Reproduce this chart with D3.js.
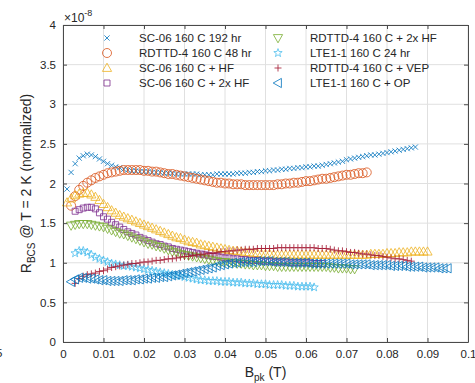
<!DOCTYPE html>
<html>
<head>
<meta charset="utf-8">
<script src="https://cdn.jsdelivr.net/npm/d3@7"></script>
<style>
body { margin: 0; background: #fff; }
text { font-family: "Liberation Sans", Arial, sans-serif; fill: #262626; }
</style>
</head>
<body>
<div id="chart"></div>
<script>
var w = 475;
var h = 383;
var margin = {top: 25, right: 7, bottom: 41, left: 63};

// B_pk values (T) shared by all series
var bPk = [0.001, 0.002, 0.003, 0.004, 0.005, 0.006, 0.007, 0.008, 0.009, 0.010,
    0.011, 0.012, 0.013, 0.014, 0.015, 0.016, 0.017, 0.018, 0.019, 0.020,
    0.021, 0.022, 0.023, 0.024, 0.025, 0.026, 0.027, 0.028, 0.029, 0.030,
    0.031, 0.032, 0.033, 0.034, 0.035, 0.036, 0.037, 0.038, 0.039, 0.040,
    0.041, 0.042, 0.043, 0.044, 0.045, 0.046, 0.047, 0.048, 0.049, 0.050,
    0.051, 0.052, 0.053, 0.054, 0.055, 0.056, 0.057, 0.058, 0.059, 0.060,
    0.061, 0.062, 0.063, 0.064, 0.065, 0.066, 0.067, 0.068, 0.069, 0.070,
    0.071, 0.072, 0.073, 0.074, 0.075, 0.076, 0.077, 0.078, 0.079, 0.080,
    0.081, 0.082, 0.083, 0.084, 0.085, 0.086, 0.087, 0.088, 0.089, 0.090,
    0.091, 0.092, 0.093, 0.094, 0.095];

var names = ["SC-06 160 C 192 hr", "RDTTD-4 160 C 48 hr", "SC-06 160 C + HF", "SC-06 160 C + 2x HF",
    "RDTTD-4 160 C + 2x HF", "LTE1-1 160 C 24 hr", "RDTTD-4 160 C + VEP", "LTE1-1 160 C + OP"];
var colors = ["#0072BD", "#D95319", "#EDB120", "#7E2F8E", "#77AC30", "#4DBEEE", "#A2142F", "#0072BD"];
var markers = ["x", "o", "^", "s", "v", "p", "+", "<"];

// first B_pk of each series
var startB = [0.001, 0.002, 0.001, 0.003, 0.002, 0.003, 0.003, 0.002];

// R_BCS values in units of 1e-8
var sc06_192hr = [1.93, 2.14, 2.25, 2.32, 2.35, 2.37, 2.36, 2.34, 2.31, 2.28,
    2.25, 2.23, 2.21, 2.20, 2.18, 2.17, 2.16, 2.16, 2.15, 2.15,
    2.15, 2.14, 2.14, 2.14, 2.13, 2.13, 2.13, 2.12, 2.12, 2.12,
    2.12, 2.12, 2.12, 2.11, 2.11, 2.11, 2.11, 2.12, 2.12, 2.12,
    2.12, 2.12, 2.13, 2.13, 2.13, 2.14, 2.14, 2.15, 2.15, 2.16,
    2.16, 2.17, 2.17, 2.18, 2.18, 2.19, 2.19, 2.20, 2.20, 2.21,
    2.21, 2.22, 2.22, 2.23, 2.24, 2.25, 2.26, 2.27, 2.28, 2.30,
    2.31, 2.32, 2.33, 2.34, 2.35, 2.36, 2.36, 2.37, 2.38, 2.39,
    2.40, 2.41, 2.42, 2.43, 2.44, 2.45, 2.46];
var rdttd4_48hr = [1.72, 1.84, 1.92, 1.97, 2.01, 2.04, 2.07, 2.09, 2.11,
    2.13, 2.14, 2.15, 2.16, 2.17, 2.17, 2.17, 2.17, 2.17, 2.16,
    2.16, 2.15, 2.15, 2.14, 2.13, 2.12, 2.12, 2.11, 2.10, 2.09,
    2.08, 2.07, 2.06, 2.05, 2.04, 2.03, 2.02, 2.01, 2.01, 2.00,
    2.00, 1.99, 1.99, 1.99, 1.98, 1.98, 1.98, 1.98, 1.98, 1.98,
    1.98, 1.98, 1.99, 1.99, 2.00, 2.00, 2.01, 2.01, 2.02, 2.03,
    2.03, 2.04, 2.05, 2.06, 2.06, 2.07, 2.08, 2.09, 2.10, 2.11,
    2.11, 2.12, 2.13, 2.13, 2.14];
var sc06_hf = [1.76, 1.81, 1.85, 1.87, 1.88, 1.88, 1.86, 1.83, 1.79, 1.74,
    1.70, 1.66, 1.63, 1.60, 1.58, 1.56, 1.54, 1.52, 1.50, 1.48,
    1.46, 1.44, 1.42, 1.40, 1.38, 1.36, 1.34, 1.32, 1.31, 1.29,
    1.27, 1.26, 1.25, 1.23, 1.22, 1.21, 1.20, 1.19, 1.18, 1.17,
    1.16, 1.15, 1.15, 1.14, 1.13, 1.13, 1.12, 1.12, 1.11, 1.11,
    1.11, 1.10, 1.10, 1.10, 1.10, 1.10, 1.10, 1.10, 1.10, 1.10,
    1.10, 1.10, 1.10, 1.10, 1.10, 1.10, 1.10, 1.10, 1.10, 1.10,
    1.10, 1.10, 1.10, 1.10, 1.10, 1.11, 1.11, 1.11, 1.11, 1.12,
    1.12, 1.12, 1.13, 1.13, 1.13, 1.14, 1.14, 1.14, 1.14, 1.14];
var sc06_2xhf = [1.65, 1.67, 1.69, 1.70, 1.70, 1.68, 1.63, 1.58,
    1.55, 1.51, 1.48, 1.45, 1.42, 1.39, 1.37, 1.35, 1.32, 1.30,
    1.28, 1.26, 1.24, 1.23, 1.21, 1.20, 1.18, 1.17, 1.16, 1.15,
    1.14, 1.13, 1.12, 1.11, 1.10, 1.09, 1.08, 1.08, 1.07, 1.06,
    1.06, 1.05, 1.05, 1.04, 1.04, 1.03, 1.03, 1.03, 1.02, 1.02,
    1.02, 1.01, 1.01, 1.01, 1.01, 1.00, 1.00, 1.00, 1.00, 1.00,
    1.00, 0.99, 0.99, 0.99];
var rdttd4_2xhf = [1.47, 1.48, 1.49, 1.49, 1.49, 1.48, 1.47, 1.46, 1.45,
    1.43, 1.41, 1.39, 1.37, 1.36, 1.34, 1.32, 1.30, 1.28, 1.26,
    1.24, 1.23, 1.21, 1.20, 1.18, 1.16, 1.14, 1.13, 1.11, 1.10,
    1.09, 1.08, 1.07, 1.06, 1.05, 1.04, 1.03, 1.02, 1.01, 1.01,
    1.00, 1.00, 0.99, 0.99, 0.98, 0.98, 0.97, 0.97, 0.97, 0.96,
    0.96, 0.96, 0.95, 0.95, 0.95, 0.95, 0.95, 0.95, 0.95, 0.95,
    0.95, 0.95, 0.95, 0.95, 0.95, 0.94, 0.94, 0.93, 0.93, 0.93,
    0.92, 0.92];
var lte11_24hr = [1.12, 1.15, 1.15, 1.13, 1.10, 1.07, 1.05, 1.03,
    1.01, 0.99, 0.98, 0.97, 0.96, 0.96, 0.95, 0.94, 0.93, 0.92,
    0.91, 0.90, 0.89, 0.88, 0.87, 0.86, 0.85, 0.84, 0.83, 0.82,
    0.81, 0.80, 0.79, 0.78, 0.78, 0.77, 0.77, 0.77, 0.76, 0.76,
    0.76, 0.75, 0.75, 0.75, 0.74, 0.74, 0.74, 0.73, 0.73, 0.73,
    0.72, 0.72, 0.72, 0.72, 0.71, 0.71, 0.71, 0.70, 0.70, 0.70,
    0.70, 0.69];
var rdttd4_vep = [0.74, 0.80, 0.83, 0.85, 0.86, 0.87, 0.89, 0.90,
    0.92, 0.94, 0.95, 0.96, 0.97, 0.98, 0.99, 0.99, 1.00, 1.01,
    1.01, 1.02, 1.03, 1.03, 1.04, 1.05, 1.05, 1.06, 1.07, 1.08,
    1.08, 1.09, 1.10, 1.10, 1.11, 1.12, 1.12, 1.13, 1.14, 1.14,
    1.15, 1.15, 1.16, 1.16, 1.17, 1.17, 1.17, 1.18, 1.18, 1.18,
    1.18, 1.18, 1.19, 1.19, 1.19, 1.19, 1.19, 1.19, 1.19, 1.19,
    1.19, 1.19, 1.18, 1.18, 1.18, 1.17, 1.16, 1.15, 1.15, 1.14,
    1.13, 1.13, 1.12, 1.11, 1.11, 1.10, 1.09, 1.09, 1.08, 1.07,
    1.06, 1.05, 1.05, 1.04, 1.03, 1.02];
var lte11_op = [0.76, 0.79, 0.81, 0.81, 0.80, 0.80, 0.79, 0.78, 0.78,
    0.77, 0.77, 0.77, 0.77, 0.78, 0.78, 0.78, 0.79, 0.79, 0.80,
    0.80, 0.81, 0.81, 0.82, 0.82, 0.83, 0.84, 0.85, 0.86, 0.87,
    0.88, 0.89, 0.90, 0.91, 0.92, 0.93, 0.94, 0.96, 0.97, 0.98,
    0.99, 1.00, 1.00, 1.01, 1.01, 1.01, 1.01, 1.02, 1.02, 1.02,
    1.02, 1.01, 1.01, 1.01, 1.01, 1.00, 1.00, 1.00, 1.00, 1.00,
    0.99, 0.99, 0.99, 0.99, 0.99, 0.99, 0.99, 0.99, 0.99, 0.99,
    0.98, 0.98, 0.98, 0.98, 0.98, 0.97, 0.97, 0.97, 0.97, 0.97,
    0.96, 0.96, 0.96, 0.96, 0.95, 0.95, 0.95, 0.95, 0.94, 0.94,
    0.94, 0.94, 0.93, 0.93, 0.93];

var seriesValues = [sc06_192hr, rdttd4_48hr, sc06_hf, sc06_2xhf, rdttd4_2xhf, lte11_24hr, rdttd4_vep, lte11_op];

var xTicks = [0, 0.01, 0.02, 0.03, 0.04, 0.05, 0.06, 0.07, 0.08, 0.09, 0.1];
var yTicks = [0, 0.5, 1, 1.5, 2, 2.5, 3, 3.5, 4];

var pw = w - margin.left - margin.right;
var ph = h - margin.top - margin.bottom;

var svg = d3.select("#chart")
    .append("svg")
    .attr("width", w)
    .attr("height", h);

var g = svg.append("g")
    .attr("transform", "translate(" + margin.left + "," + margin.top + ")");

var xScale = d3.scaleLinear().domain([0, 0.1]).range([0, pw]);
var yScale = d3.scaleLinear().domain([0, 4]).range([ph, 0]);

// grid
g.append("g").selectAll("line")
    .data(xTicks)
    .enter()
    .append("line")
    .attr("x1", function (d) { return xScale(d); })
    .attr("x2", function (d) { return xScale(d); })
    .attr("y1", 0)
    .attr("y2", ph)
    .attr("stroke", "#e0e0e0")
    .attr("stroke-width", 1);

g.append("g").selectAll("line")
    .data(yTicks)
    .enter()
    .append("line")
    .attr("y1", function (d) { return yScale(d); })
    .attr("y2", function (d) { return yScale(d); })
    .attr("x1", 0)
    .attr("x2", pw)
    .attr("stroke", "#e0e0e0")
    .attr("stroke-width", 1);

// marker path for each marker type
function markerPath(m) {
    if (m == "x") return "M-2.6,-2.6L2.6,2.6M-2.6,2.6L2.6,-2.6";
    if (m == "+") return "M-3.5,0H3.5M0,-3.5V3.5";
    if (m == "o") return "M4.5,0A4.5,4.5 0 1,1 -4.5,0A4.5,4.5 0 1,1 4.5,0Z";
    if (m == "^") return "M0,-4.8L4.6,3.4L-4.6,3.4Z";
    if (m == "v") return "M0,4.8L4.6,-3.4L-4.6,-3.4Z";
    if (m == "<") return "M-4.8,0L3.4,-4.6L3.4,4.6Z";
    if (m == "s") return "M-3,-3H3V3H-3Z";
    if (m == "p") {
        var pts = [];
        for (var k = 0; k < 10; k++) {
            var r = k % 2 == 0 ? 4.4 : 1.8;
            var a = -Math.PI / 2 + k * Math.PI / 5;
            pts.push((r * Math.cos(a)).toFixed(2) + "," + (r * Math.sin(a)).toFixed(2));
        }
        return "M" + pts.join("L") + "Z";
    }
}

// data points
seriesValues.forEach(function (vals, si) {
    var first = bPk.indexOf(startB[si]);
    var pts = vals.map(function (v, i) { return {b: bPk[first + i], r: v}; });
    g.append("g")
        .selectAll("path")
        .data(pts)
        .enter()
        .append("path")
        .attr("d", markerPath(markers[si]))
        .attr("transform", function (d) {
            return "translate(" + xScale(d.b) + "," + yScale(d.r) + ")";
        })
        .attr("fill", "none")
        .attr("stroke", colors[si])
        .attr("stroke-width", 0.8);
});

// axes (ticks inside, box on)
var axisColor = "#4a4a4a";
var xAxis = d3.axisBottom(xScale).tickValues(xTicks)
    .tickSizeInner(-4).tickSizeOuter(0).tickPadding(8)
    .tickFormat(function (d) { return d3.format("~g")(d); });
var yAxis = d3.axisLeft(yScale).tickValues(yTicks)
    .tickSizeInner(-4).tickSizeOuter(0).tickPadding(7)
    .tickFormat(function (d) { return d3.format("~g")(d); });

var gx = g.append("g")
    .attr("transform", "translate(0," + ph + ")")
    .call(xAxis);
var gy = g.append("g").call(yAxis);

g.append("g")
    .call(d3.axisTop(xScale).tickValues(xTicks).tickSizeInner(-4).tickSizeOuter(0).tickFormat(""));
g.append("g")
    .attr("transform", "translate(" + pw + ",0)")
    .call(d3.axisRight(yScale).tickValues(yTicks).tickSizeInner(-4).tickSizeOuter(0).tickFormat(""));

g.selectAll(".domain, .tick line").attr("stroke", axisColor);
gx.selectAll("text").attr("font-size", "11.5px").attr("fill", "#262626");
gy.selectAll("text").attr("font-size", "11.5px").attr("fill", "#262626");

// exponent
var ex = svg.append("text")
    .attr("x", margin.left + 1)
    .attr("y", margin.top - 3)
    .attr("font-size", "12px");
ex.append("tspan").text("\u00d710");
ex.append("tspan").attr("dy", -6).attr("font-size", "9px").text("-8");

// axis labels
var xl = svg.append("text")
    .attr("x", margin.left + pw / 2)
    .attr("y", h - 6)
    .attr("text-anchor", "middle")
    .attr("font-size", "14px");
xl.append("tspan").text("B");
xl.append("tspan").attr("dy", 4).attr("font-size", "10px").text("pk");
xl.append("tspan").attr("dy", -4).text(" (T)");

var yl = svg.append("text")
    .attr("transform", "translate(31," + (margin.top + ph / 2) + ") rotate(-90)")
    .attr("text-anchor", "middle")
    .attr("font-size", "14px");
yl.append("tspan").text("R");
yl.append("tspan").attr("dy", 4).attr("font-size", "10px").text("BCS");
yl.append("tspan").attr("dy", -4).text(" @ T = 2 K (normalized)");

// partial label at left edge, as in the picture
svg.append("text")
    .attr("x", -4)
    .attr("y", 357)
    .attr("font-size", "11.5px")
    .text("5");

// legend
var legend = svg.append("g");
names.forEach(function (name, i) {
    var col = Math.floor(i / 4);
    var row = i % 4;
    var mx = col == 0 ? 107 : 278;
    var my = 38 + row * 15;
    legend.append("path")
        .attr("d", markerPath(markers[i]))
        .attr("transform", "translate(" + mx + "," + my + ")")
        .attr("fill", "none")
        .attr("stroke", colors[i])
        .attr("stroke-width", 0.8);
    legend.append("text")
        .attr("x", mx + 32)
        .attr("y", my + 4)
        .attr("font-size", "11.5px")
        .text(name);
});
</script>
</body>
</html>
